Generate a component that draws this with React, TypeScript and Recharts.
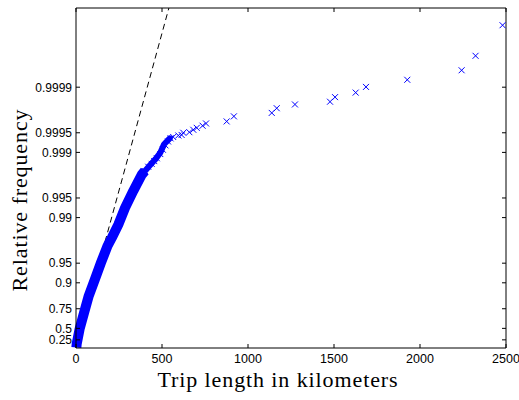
import React from 'react';
import { ComposedChart, Line, Scatter, XAxis, YAxis, Label } from 'recharts';

// ---- data ----
const xTickKm = [0, 500, 1000, 1500, 2000, 2500];
const yTickFreq = [0.25, 0.5, 0.75, 0.9, 0.95, 0.99, 0.995, 0.999, 0.9995, 0.9999];
const yTickLabels = ['0.25', '0.5', '0.75', '0.9', '0.95', '0.99', '0.995', '0.999', '0.9995', '0.9999'];

// dense part of the empirical distribution (centre of the band)
const bandKm = [2, 4, 21, 47, 74, 110, 145, 183, 209, 246, 285, 333, 382, 400];
const bandFreq = [0.0198, 0.1306, 0.4883, 0.7135, 0.8412, 0.912, 0.9507, 0.9727, 0.9798, 0.9872, 0.9929, 0.9961, 0.9978, 0.99807];

// thinner upper part of the band
const upperKm = [382, 430, 460, 490, 512, 545];
const upperFreq = [0.9978, 0.99842, 0.99871, 0.99899, 0.99925, 0.99939];

// individual markers
const markerKm = [400, 420, 440, 455, 470, 490, 505, 520, 535, 550, 565, 595, 614, 624, 659, 682, 702, 736, 756, 876, 918, 1138, 1167, 1273, 1477, 1506, 1626, 1686, 1926, 2242, 2323, 2480];
const markerFreq = [0.99807, 0.99834, 0.9985, 0.99864, 0.99877, 0.99894, 0.99909, 0.99922, 0.99932, 0.99939, 0.99942, 0.99945, 0.99946, 0.9995, 0.99951, 0.99955, 0.99958, 0.99961, 0.99964, 0.999665, 0.99972, 0.999752, 0.99979, 0.999816, 0.999833, 0.999858, 0.999879, 0.999901, 0.999923, 0.999945, 0.999967, 0.9999888];

// exponential fit (dashed)
const fitKm = [0, 540];
const fitFreq = [0, 0.9999939];

// ---- helpers ----
const toExp = (p: number) => -Math.log(1 - p);
const build = (xs: number[], ps: number[]) => xs.map((x, i) => ({ x, y: toExp(ps[i]) }));

const bandData = build(bandKm, bandFreq);
const upperData = build(upperKm, upperFreq);
const markerData = build(markerKm, markerFreq);
const fitData = build(fitKm, fitFreq);
const yTickPos = yTickFreq.map(toExp);

const BLUE = '#0000ff';
const TICK_FONT = '"Liberation Sans", Arial, Helvetica, sans-serif';
const LABEL_FONT = '"Liberation Serif", "Times New Roman", serif';

const labelFor = (v: number) => {
  const i = yTickPos.findIndex((t) => Math.abs(t - v) < 1e-9);
  return i >= 0 ? yTickLabels[i] : '';
};

const LeftTick = (props: any) => {
  const { x, y, payload } = props;
  return (
    <g>
      <line x1={x} x2={x + 4} y1={y} y2={y} stroke="#000" strokeWidth={1} />
      <text x={x - 4} y={y} dy="0.36em" textAnchor="end" fontFamily={TICK_FONT} fontSize={12} fill="#000">
        {labelFor(payload.value)}
      </text>
    </g>
  );
};

const RightTick = (props: any) => {
  const { x, y } = props;
  return <line x1={x} x2={x - 4} y1={y} y2={y} stroke="#000" strokeWidth={1} />;
};

const BottomTick = (props: any) => {
  const { x, y, payload } = props;
  return (
    <g>
      <line x1={x} x2={x} y1={y} y2={y - 4} stroke="#000" strokeWidth={1} />
      <text x={x} y={y + 15} textAnchor="middle" fontFamily={TICK_FONT} fontSize={12.5} fill="#000">
        {payload.value}
      </text>
    </g>
  );
};

const TopTick = (props: any) => {
  const { x, y } = props;
  return <line x1={x} x2={x} y1={y} y2={y + 4} stroke="#000" strokeWidth={1} />;
};

const XMark = (props: any) => {
  const { cx, cy } = props;
  if (cx == null || cy == null) return null;
  const r = 3;
  return (
    <g stroke={BLUE} strokeWidth={1}>
      <line x1={cx - r} y1={cy - r} x2={cx + r} y2={cy + r} />
      <line x1={cx - r} y1={cy + r} x2={cx + r} y2={cy - r} />
    </g>
  );
};

export default function App() {
  return (
    <div style={{ width: 519, height: 400 }}>
      <style>{`body{margin:0;}`}</style>
      <ComposedChart width={519} height={400} margin={{ top: 7, right: 12, bottom: 0, left: 0 }}>
        <XAxis
          xAxisId="b"
          type="number"
          dataKey="x"
          domain={[0, 2500]}
          ticks={xTickKm}
          interval={0}
          height={52}
          tickSize={0}
          tickMargin={0}
          tickLine={false}
          axisLine={{ stroke: '#000', strokeWidth: 1 }}
          tick={<BottomTick />}
        >
          <Label
            content={() => (
              <text x={278} y={387} textAnchor="middle" fontFamily={LABEL_FONT} fontSize={22} letterSpacing={0.9} fill="#000">
                Trip length in kilometers
              </text>
            )}
          />
        </XAxis>
        <XAxis
          xAxisId="t"
          orientation="top"
          type="number"
          dataKey="x"
          domain={[0, 2500]}
          ticks={xTickKm}
          interval={0}
          height={1}
          tickSize={0}
          tickMargin={0}
          tickLine={false}
          axisLine={{ stroke: '#000', strokeWidth: 1 }}
          tick={<TopTick />}
        />
        <YAxis
          yAxisId="l"
          type="number"
          dataKey="y"
          domain={[0, 12]}
          ticks={yTickPos}
          interval={0}
          width={76}
          tickSize={0}
          tickMargin={0}
          tickLine={false}
          axisLine={{ stroke: '#000', strokeWidth: 1 }}
          tick={<LeftTick />}
        >
          <Label
            content={() => (
              <text
                x={27}
                y={200}
                transform="rotate(-90 27 200)"
                textAnchor="middle"
                fontFamily={LABEL_FONT}
                fontSize={22}
                letterSpacing={0.9}
                fill="#000"
              >
                Relative frequency
              </text>
            )}
          />
        </YAxis>
        <YAxis
          yAxisId="r"
          orientation="right"
          type="number"
          dataKey="y"
          domain={[0, 12]}
          ticks={yTickPos}
          interval={0}
          width={1}
          tickSize={0}
          tickMargin={0}
          tickLine={false}
          axisLine={{ stroke: '#000', strokeWidth: 1 }}
          tick={<RightTick />}
        />
        {/* invisible series so the mirrored (top/right) box axes are drawn */}
        <Line
          xAxisId="t"
          yAxisId="r"
          data={fitData}
          dataKey="y"
          stroke="none"
          strokeWidth={0}
          dot={false}
          activeDot={false}
          isAnimationActive={false}
        />
        <Line
          xAxisId="b"
          yAxisId="l"
          data={fitData}
          dataKey="y"
          stroke="#000"
          strokeWidth={1}
          strokeDasharray="6 4"
          dot={false}
          isAnimationActive={false}
        />
        <Line
          xAxisId="b"
          yAxisId="l"
          data={bandData}
          dataKey="y"
          stroke={BLUE}
          strokeWidth={10}
          strokeLinejoin="round"
          dot={false}
          isAnimationActive={false}
        />
        <Line
          xAxisId="b"
          yAxisId="l"
          data={upperData}
          dataKey="y"
          stroke={BLUE}
          strokeWidth={6}
          strokeLinejoin="round"
          strokeLinecap="round"
          dot={false}
          isAnimationActive={false}
        />
        <Scatter
          xAxisId="b"
          yAxisId="l"
          data={markerData}
          dataKey="y"
          fill={BLUE}
          shape={<XMark />}
          isAnimationActive={false}
        />
      </ComposedChart>
    </div>
  );
}
